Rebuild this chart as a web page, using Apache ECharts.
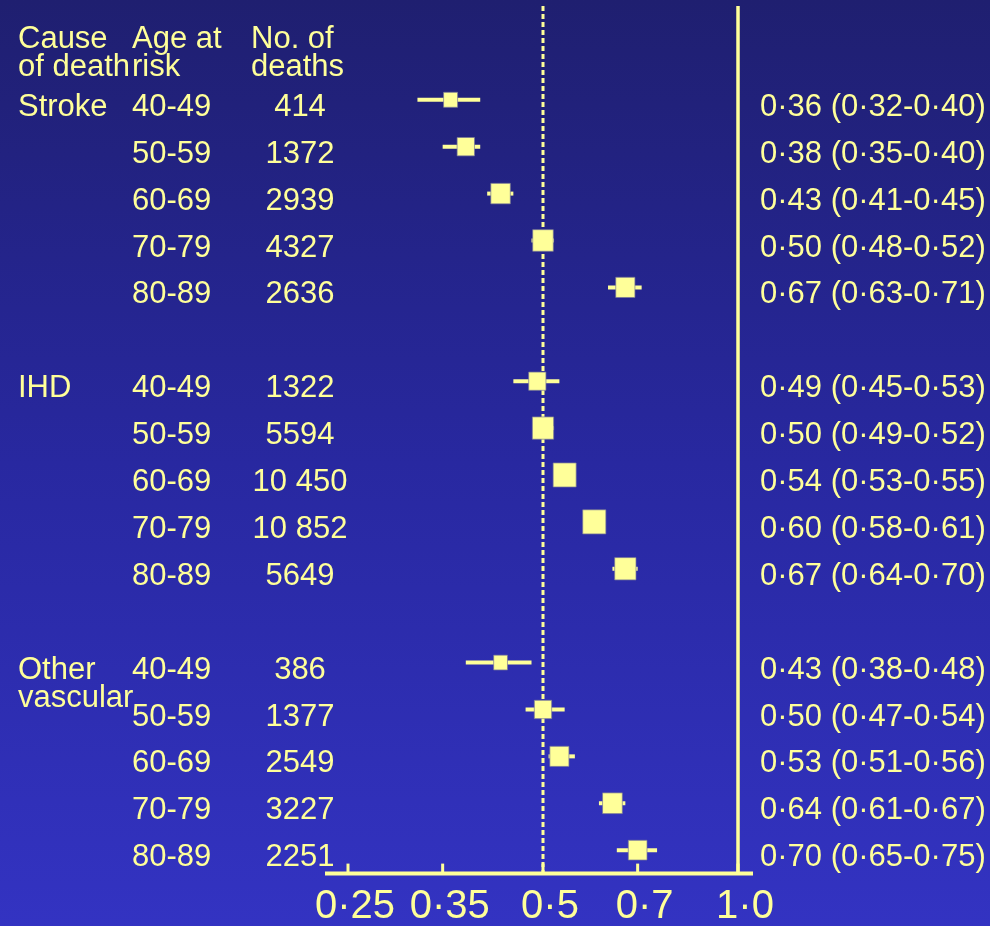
<!DOCTYPE html>
<html>
<head>
<meta charset="utf-8">
<script src="https://cdn.jsdelivr.net/npm/echarts@6/dist/echarts.min.js"></script>
<style>
  html, body { margin: 0; padding: 0; background: #1f1f70; }
  #chart { width: 990px; height: 926px; }
</style>
</head>
<body>
<div id="chart"></div>
<script>
// ---- data -------------------------------------------------------------
const causes = ['Stroke', 'IHD', 'Other\nvascular'];
const ageGroups = ['40-49', '50-59', '60-69', '70-79', '80-89'];

const strokeDeaths = [414, 1372, 2939, 4327, 2636];
const strokeHR     = [0.36, 0.38, 0.43, 0.50, 0.67];
const strokeLow    = [0.32, 0.35, 0.41, 0.48, 0.63];
const strokeHigh   = [0.40, 0.40, 0.45, 0.52, 0.71];

const ihdDeaths = [1322, 5594, 10450, 10852, 5649];
const ihdHR     = [0.49, 0.50, 0.54, 0.60, 0.67];
const ihdLow    = [0.45, 0.49, 0.53, 0.58, 0.64];
const ihdHigh   = [0.53, 0.52, 0.55, 0.61, 0.70];

const otherDeaths = [386, 1377, 2549, 3227, 2251];
const otherHR     = [0.43, 0.50, 0.53, 0.64, 0.70];
const otherLow    = [0.38, 0.47, 0.51, 0.61, 0.65];
const otherHigh   = [0.48, 0.54, 0.56, 0.67, 0.75];

const headerLabels = ['Cause\nof death', 'Age at\nrisk', 'No. of\ndeaths'];
const tickValues = [0.25, 0.35, 0.5, 0.7, 1.0];
const tickLabels = ['0·25', '0·35', '0·5', '0·7', '1·0'];

// ---- styling ----------------------------------------------------------
const YELLOW = '#ffff99';
const FONT = '"Liberation Sans", Arial, Helvetica, sans-serif';
const TEXT_SIZE = 31;
const LINE_H = 28;
const ROW_TEXT_SHIFT = 7.5;   // row text sits a little below its mark

// combine groups into plot rows (a blank row between causes)
const groups = [
  { deaths: strokeDeaths, hr: strokeHR, lo: strokeLow, hi: strokeHigh },
  { deaths: ihdDeaths,    hr: ihdHR,    lo: ihdLow,    hi: ihdHigh },
  { deaths: otherDeaths,  hr: otherHR,  lo: otherLow,  hi: otherHigh }
];
const rows = [];
groups.forEach((g, gi) => {
  ageGroups.forEach((age, ai) => {
    rows.push({
      row: gi * 6 + ai,
      cause: ai === 0 ? causes[gi] : '',
      age: age,
      deaths: g.deaths[ai],
      hr: g.hr[ai], lo: g.lo[ai], hi: g.hi[ai]
    });
  });
});

const dot = v => v.toFixed(2).replace('.', '·');
const fmtDeaths = n => n >= 10000
  ? String(Math.floor(n / 1000)) + ' ' + String(n % 1000).padStart(3, '0')
  : String(n);
// box side grows with the number of deaths
const boxSide = n => 14 + 2.8 * Math.log(n / 414);

const markData = rows.map(r => [r.hr, r.lo, r.hi, r.row, r.deaths]);
const textData = rows.map(r => [0.5, r.row]);

function renderRef(params, api) {
  const v = api.value(0);
  const top = api.coord([v, -2]);
  const bot = api.coord([v, 16.5]);
  const dashed = params.dataIndex === 0;
  return {
    type: 'line',
    shape: { x1: top[0], y1: top[1], x2: bot[0], y2: bot[1] },
    style: dashed
      ? { stroke: YELLOW, lineWidth: 3, lineDash: [5, 3] }
      : { stroke: YELLOW, lineWidth: 3.5 }
  };
}

function renderMark(params, api) {
  const est = api.value(0), lo = api.value(1), hi = api.value(2);
  const row = api.value(3), n = api.value(4);
  const c = api.coord([est, row]);
  const l = api.coord([lo, row]);
  const h = api.coord([hi, row]);
  const s = boxSide(n);
  return {
    type: 'group',
    children: [
      { type: 'line', shape: { x1: l[0], y1: c[1], x2: h[0], y2: c[1] },
        style: { stroke: YELLOW, lineWidth: 4 } },
      { type: 'rect', shape: { x: c[0] - s / 2, y: c[1] - s / 2 - 0.5, width: s, height: s + 1 },
        style: { fill: YELLOW, stroke: 'rgba(120,120,150,0.7)', lineWidth: 1 } }
    ]
  };
}

function renderRowText(params, api) {
  const r = rows[params.dataIndex];
  const y = api.coord([0.5, r.row])[1] + ROW_TEXT_SHIFT - LINE_H / 2;
  const base = { fill: YELLOW, fontSize: TEXT_SIZE, fontFamily: FONT, lineHeight: LINE_H, verticalAlign: 'top' };
  return {
    type: 'group',
    children: [
      { type: 'text', x: 18,  y: y, style: Object.assign({ text: r.cause, align: 'left' }, base) },
      { type: 'text', x: 132, y: y, style: Object.assign({ text: r.age, align: 'left' }, base) },
      { type: 'text', x: 300, y: y, style: Object.assign({ text: fmtDeaths(r.deaths), align: 'center' }, base) },
      { type: 'text', x: 760, y: y, style: Object.assign({ text: dot(r.hr) + ' (' + dot(r.lo) + '-' + dot(r.hi) + ')', align: 'left' }, base) }
    ]
  };
}

function renderTick(params, api) {
  const v = api.value(0);
  const p = api.coord([v, 16.5]);
  return {
    type: 'group',
    children: [
      { type: 'line', shape: { x1: p[0], y1: p[1], x2: p[0], y2: p[1] - 10 },
        style: { stroke: YELLOW, lineWidth: 3 } },
      { type: 'text', x: p[0] + 7, y: p[1] + 33,
        style: { text: tickLabels[params.dataIndex], fill: YELLOW, fontSize: 40, fontFamily: FONT,
                 align: 'center', verticalAlign: 'middle' } }
    ]
  };
}

function renderBaseline(params, api) {
  const a = api.coord([api.value(0), 16.5]);
  const b = api.coord([api.value(1), 16.5]);
  return {
    type: 'line',
    shape: { x1: a[0] - 23, y1: a[1], x2: b[0] + 15, y2: b[1] },
    style: { stroke: YELLOW, lineWidth: 4 }
  };
}

const chart = echarts.init(document.getElementById('chart'), null, { renderer: 'canvas' });
chart.setOption({
  animation: false,
  backgroundColor: {
    type: 'linear', x: 0, y: 0, x2: 0, y2: 1,
    colorStops: [
      { offset: 0, color: '#1f1f70' },
      { offset: 0.5, color: '#2828a0' },
      { offset: 1, color: '#3333c2' }
    ]
  },
  grid: { left: 348, right: 252, top: 6, bottom: 52.4 },
  xAxis: { type: 'log', logBase: 10, min: 0.25, max: 1.0, show: false },
  yAxis: { type: 'value', inverse: true, min: -2, max: 16.5, show: false },
  graphic: headerLabels.map((t, i) => ({
    type: 'text',
    left: [18, 132, 251][i],
    top: 24,
    style: { text: t, fill: YELLOW, fontSize: TEXT_SIZE, fontFamily: FONT, lineHeight: LINE_H }
  })),
  series: [
    { type: 'custom', name: 'reference', clip: false, data: [[0.5], [1.0]], renderItem: renderRef, z: 1 },
    { type: 'custom', name: 'baseline', clip: false, data: [[tickValues[0], tickValues[tickValues.length - 1]]], renderItem: renderBaseline, z: 1 },
    { type: 'custom', name: 'ticks', clip: false, data: tickValues.map(v => [v]), renderItem: renderTick, z: 1 },
    { type: 'custom', name: 'estimates', clip: false, data: markData, renderItem: renderMark, z: 3 },
    { type: 'custom', name: 'labels', clip: false, data: textData, renderItem: renderRowText, z: 3 }
  ]
});
</script>
</body>
</html>
